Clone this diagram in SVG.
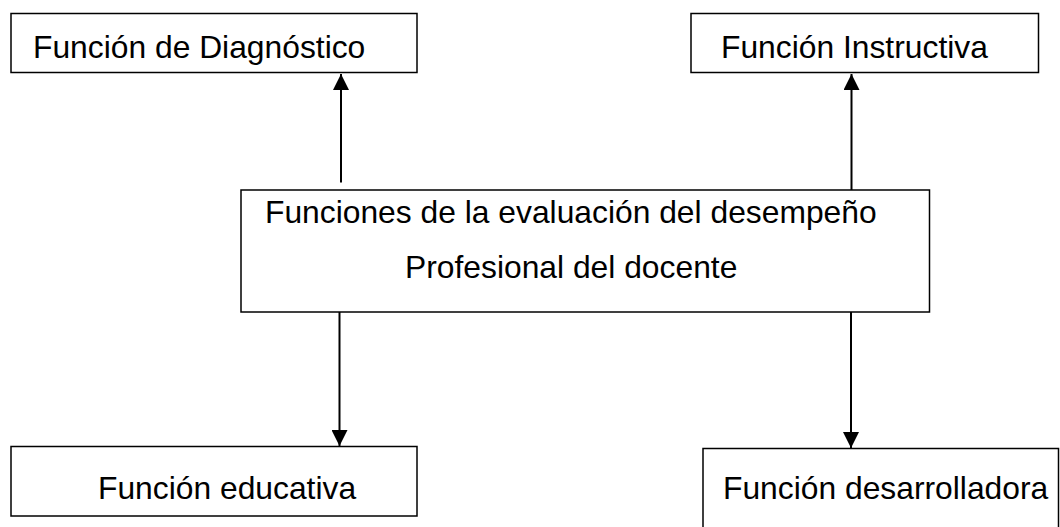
<svg xmlns="http://www.w3.org/2000/svg" width="1060" height="527" viewBox="0 0 1060 527">
<style>
.box{fill:#fff;stroke:#000;stroke-width:1.5}
.t{font-family:"Liberation Sans",Arial,sans-serif;font-size:31.8px;fill:#000}
.c{stroke:#000;stroke-width:2;fill:none}
</style>
<defs>
<marker id="ah" viewBox="0 0 16 16" refX="16" refY="8" markerWidth="16" markerHeight="16" markerUnits="userSpaceOnUse" orient="auto">
<path d="M0,0 L16,8 L0,16 Z" fill="#000"/>
</marker>
</defs>
<rect width="1060" height="527" fill="#fff"/>
<g id="connectors">
<line class="c" x1="341" y1="182.5" x2="341" y2="74" marker-end="url(#ah)"/>
<line class="c" x1="851.5" y1="190" x2="851.5" y2="74" marker-end="url(#ah)"/>
<line class="c" x1="339.5" y1="312" x2="339.5" y2="446" marker-end="url(#ah)"/>
<line class="c" x1="851" y1="312" x2="851" y2="448" marker-end="url(#ah)"/>
</g>
<g id="n_diagnostico">
<rect class="box" x="11" y="13.5" width="406" height="59"/>
<text class="t" x="33" y="58">Función de Diagnóstico</text>
</g>
<g id="n_instructiva">
<rect class="box" x="691" y="13.5" width="347.5" height="59"/>
<text class="t" x="721" y="58">Función Instructiva</text>
</g>
<g id="n_central">
<rect class="box" x="241" y="190" width="688.5" height="122"/>
<text class="t" x="265" y="223">Funciones de la evaluación del desempeño</text>
<text class="t" x="405" y="278">Profesional del docente</text>
</g>
<g id="n_educativa">
<rect class="box" x="11" y="446.5" width="406" height="69.5"/>
<text class="t" x="98" y="498.5">Función educativa</text>
</g>
<g id="n_desarrolladora">
<rect class="box" x="703" y="448.5" width="355.5" height="95"/>
<text class="t" x="723" y="498.5">Función desarrolladora</text>
</g>
</svg>
